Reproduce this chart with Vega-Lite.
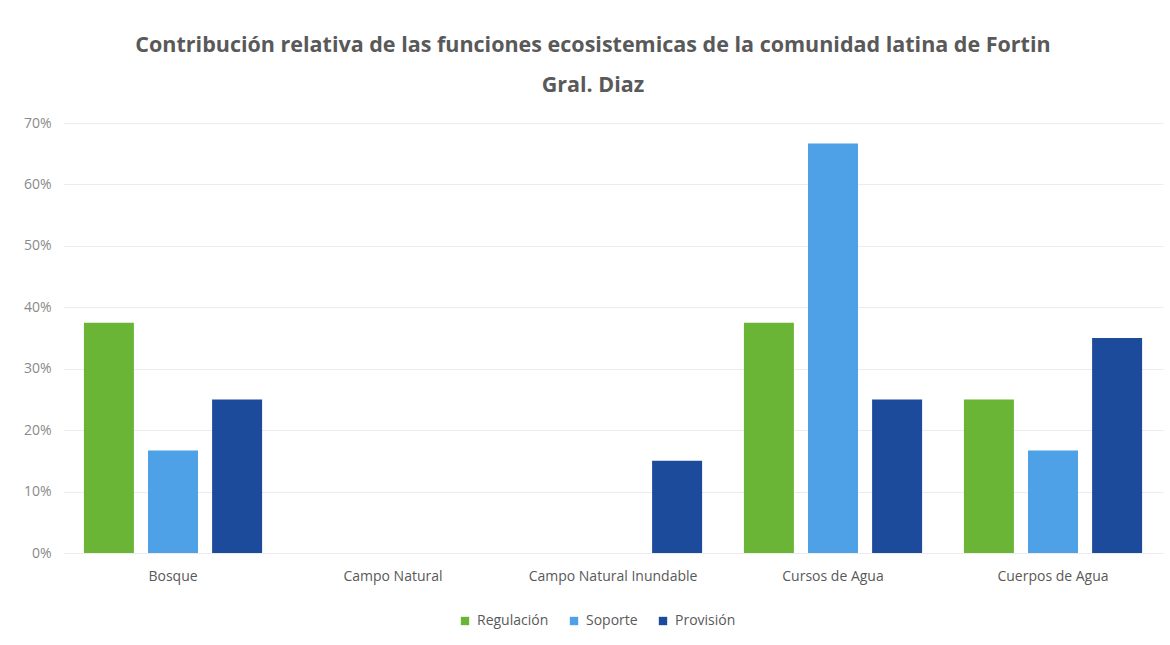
{
  "$schema": "https://vega.github.io/schema/vega-lite/v6.json",
  "width": 1100,
  "height": 430,
  "autosize": {"type": "none"},
  "padding": {"left": 63, "top": 123, "right": 7, "bottom": 92},
  "background": "white",
  "title": {
    "text": ["Contribución relativa de las funciones ecosistemicas de la comunidad latina de Fortin", "Gral. Diaz"],
    "font": "Open Sans",
    "fontSize": 21.5,
    "fontWeight": "bold",
    "color": "#595959",
    "anchor": "middle",
    "lineHeight": 40,
    "offset": 20,
    "dx": -20
  },
  "data": {
    "values": [
      {"categoria": "Bosque", "funcion": "Regulación", "valor": 0.375},
      {"categoria": "Bosque", "funcion": "Soporte", "valor": 0.1667},
      {"categoria": "Bosque", "funcion": "Provisión", "valor": 0.25},
      {"categoria": "Campo Natural", "funcion": "Regulación", "valor": 0},
      {"categoria": "Campo Natural", "funcion": "Soporte", "valor": 0},
      {"categoria": "Campo Natural", "funcion": "Provisión", "valor": 0},
      {"categoria": "Campo Natural Inundable", "funcion": "Regulación", "valor": 0},
      {"categoria": "Campo Natural Inundable", "funcion": "Soporte", "valor": 0},
      {"categoria": "Campo Natural Inundable", "funcion": "Provisión", "valor": 0.15},
      {"categoria": "Cursos de Agua", "funcion": "Regulación", "valor": 0.375},
      {"categoria": "Cursos de Agua", "funcion": "Soporte", "valor": 0.6667},
      {"categoria": "Cursos de Agua", "funcion": "Provisión", "valor": 0.25},
      {"categoria": "Cuerpos de Agua", "funcion": "Regulación", "valor": 0.25},
      {"categoria": "Cuerpos de Agua", "funcion": "Soporte", "valor": 0.1667},
      {"categoria": "Cuerpos de Agua", "funcion": "Provisión", "valor": 0.35}
    ]
  },
  "mark": {"type": "bar"},
  "encoding": {
    "x": {
      "field": "categoria",
      "type": "nominal",
      "sort": null,
      "scale": {"paddingInner": 0.19, "paddingOuter": 0.095},
      "axis": {
        "title": null,
        "labelAngle": 0,
        "labelFont": "Open Sans",
        "labelFontSize": 14,
        "labelColor": "#595959",
        "labelPadding": 16,
        "ticks": false,
        "domain": false,
        "grid": false
      }
    },
    "xOffset": {
      "field": "funcion",
      "type": "nominal",
      "sort": ["Regulación", "Soporte", "Provisión"],
      "scale": {"paddingInner": 0.22, "paddingOuter": 0}
    },
    "y": {
      "field": "valor",
      "type": "quantitative",
      "scale": {"domain": [0, 0.7], "nice": false},
      "axis": {
        "title": null,
        "format": ".0%",
        "values": [0, 0.1, 0.2, 0.3, 0.4, 0.5, 0.6, 0.7],
        "labelFont": "Open Sans",
        "labelFontSize": 14,
        "labelColor": "#8a8a8a",
        "labelPadding": 12,
        "ticks": false,
        "domain": false,
        "grid": true,
        "gridColor": "#ececec",
        "gridWidth": 1
      }
    },
    "color": {
      "field": "funcion",
      "type": "nominal",
      "sort": ["Regulación", "Soporte", "Provisión"],
      "scale": {
        "domain": ["Regulación", "Soporte", "Provisión"],
        "range": ["#6bb536", "#4ea1e6", "#1d4b9b"]
      },
      "legend": {
        "title": null,
        "orient": "none",
        "legendX": 395,
        "legendY": 491,
        "direction": "horizontal",
        "symbolType": "square",
        "symbolSize": 70,
        "labelFont": "Open Sans",
        "labelFontSize": 14,
        "labelColor": "#595959",
        "labelOffset": 5,
        "columnPadding": 18
      }
    }
  },
  "config": {
    "view": {"stroke": null}
  }
}
